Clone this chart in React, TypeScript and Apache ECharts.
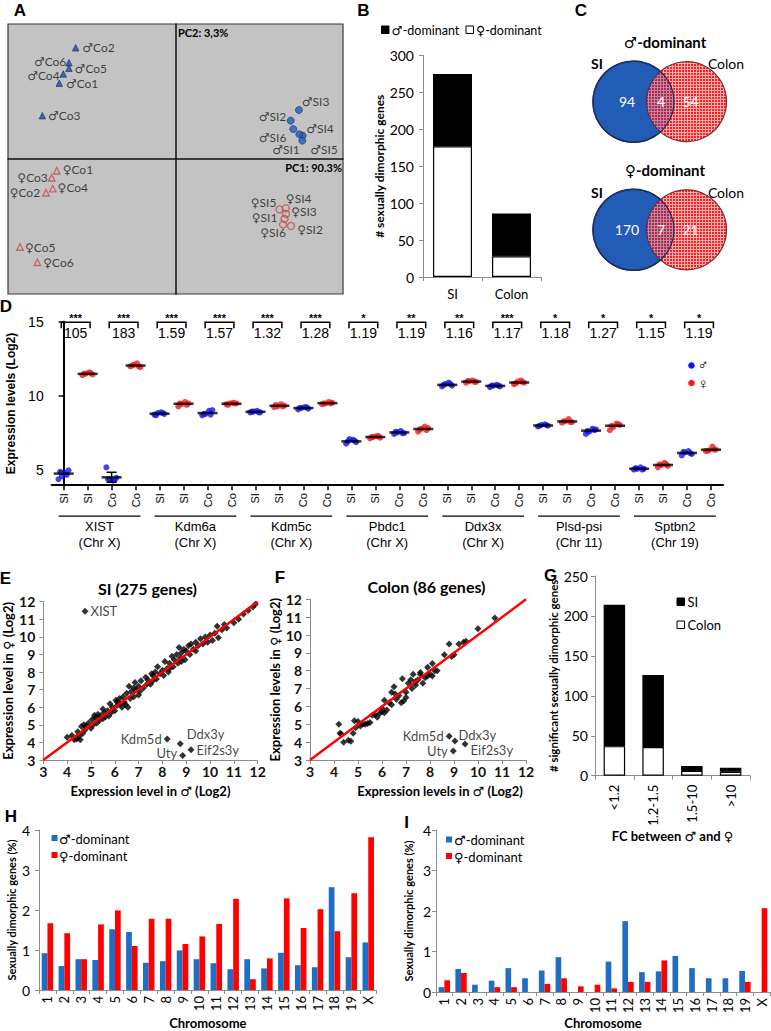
import { useEffect, useRef } from 'react';
import * as echarts from 'echarts';

const LATO = 'Lato, "DejaVu Sans", sans-serif';
const ARIAL = '"Liberation Sans", Arial, "DejaVu Sans", sans-serif';
const M = '\u2642';
const W = '\u2640';

// A: PCA scores (PC1 90.3%, PC2 3.3%)
const pcaMaleCoNames = ['Co1', 'Co2', 'Co3', 'Co4', 'Co5', 'Co6'];
const pcaMaleCoPC1 = [-0.694, -0.596, -0.795, -0.67, -0.636, -0.636];
const pcaMaleCoPC2 = [0.561, 0.824, 0.321, 0.63, 0.672, 0.713];
const pcaMaleSiNames = ['SI1', 'SI2', 'SI3', 'SI4', 'SI5', 'SI6'];
const pcaMaleSiPC1 = [0.759, 0.688, 0.737, 0.739, 0.757, 0.703];
const pcaMaleSiPC2 = [0.173, 0.284, 0.363, 0.183, 0.136, 0.222];
const pcaFemaleCoNames = ['Co1', 'Co2', 'Co3', 'Co4', 'Co5', 'Co6'];
const pcaFemaleCoPC1 = [-0.709, -0.773, -0.739, -0.733, -0.928, -0.825];
const pcaFemaleCoPC2 = [-0.087, -0.25, -0.139, -0.22, -0.652, -0.765];
const pcaFemaleSiNames = ['SI1', 'SI2', 'SI3', 'SI4', 'SI5', 'SI6'];
const pcaFemaleSiPC1 = [0.651, 0.69, 0.66, 0.658, 0.621, 0.642];
const pcaFemaleSiPC2 = [-0.444, -0.496, -0.407, -0.365, -0.373, -0.485];

// label placement (style only)
const pcaLabelPlace: Record<string, [string, number, number]> = {
  [M + 'Co1']: ['right', 1, 0], [M + 'Co2']: ['right', 1, 0], [M + 'Co3']: ['right', 0, 0],
  [M + 'Co4']: ['left', 2, 1.5], [M + 'Co5']: ['right', 0, 0], [M + 'Co6']: ['left', 3, -1.5],
  [M + 'SI1']: ['left', 3, 14], [M + 'SI2']: ['left', 1.5, -4], [M + 'SI3']: ['right', -3, -8],
  [M + 'SI4']: ['right', 1, -6], [M + 'SI5']: ['right', 2, 9], [M + 'SI6']: ['left', -1, 8],
  [W + 'Co1']: ['right', 0, -1], [W + 'Co2']: ['left', 0, 0], [W + 'Co3']: ['left', 2, 0],
  [W + 'Co4']: ['right', -1, -1], [W + 'Co5']: ['right', -1, 0], [W + 'Co6']: ['right', 0, 0],
  [W + 'SI1']: ['left', -1, -1], [W + 'SI2']: ['right', 0, 4], [W + 'SI3']: ['right', -1, -2],
  [W + 'SI4']: ['right', -6, -10], [W + 'SI5']: ['left', 3, -7], [W + 'SI6']: ['left', 9, 8],
};

// B: number of sexually dimorphic genes
const tissues = ['SI', 'Colon'];
const maleDominantCounts = [98, 58];
const femaleDominantCounts = [177, 28];

// C: Venn counts [SI only, shared, Colon only]
const vennMale = [94, 4, 54];
const vennFemale = [170, 7, 21];

// D: expression levels
const genes = ['XIST', 'Kdm6a', 'Kdm5c', 'Pbdc1', 'Ddx3x', 'Plsd-psi', 'Sptbn2'];
const geneChromosomes = ['(Chr X)', '(Chr X)', '(Chr X)', '(Chr X)', '(Chr X)', '(Chr 11)', '(Chr 19)'];
const sampleLabels = ['SI', 'SI', 'Co', 'Co'];
const expressionDots: number[][] = [
  [4.4, 4.6, 4.8, 5.0, 4.9, 4.7], [11.4, 11.5, 11.6, 11.45, 11.5, 11.55],
  [5.2, 4.4, 4.3, 4.5, 4.4, 4.35], [12.0, 12.1, 12.2, 11.95, 12.05, 12.0],
  [8.75, 8.85, 8.9, 8.8, 8.7, 8.85], [9.3, 9.45, 9.6, 9.5, 9.5, 9.4],
  [8.7, 8.8, 9.0, 9.05, 8.8, 8.75], [9.45, 9.5, 9.55, 9.5, 9.4, 9.5],
  [8.9, 8.95, 9.0, 8.9, 8.95, 8.9], [9.25, 9.3, 9.45, 9.35, 9.4, 9.3],
  [9.1, 9.2, 9.25, 9.15, 9.2, 9.25], [9.45, 9.5, 9.6, 9.55, 9.5, 9.5],
  [6.8, 7.1, 7.05, 6.9, 6.95, 7.0], [7.15, 7.25, 7.3, 7.2, 7.25, 7.3],
  [7.45, 7.55, 7.65, 7.5, 7.6, 7.5], [7.6, 7.8, 7.95, 7.85, 7.75, 7.7],
  [10.65, 10.8, 10.9, 10.7, 10.75, 10.8], [10.9, 11.0, 11.05, 10.95, 11.0, 10.95],
  [10.6, 10.7, 10.75, 10.65, 10.7, 10.7], [10.8, 10.95, 11.05, 10.9, 10.85, 10.95],
  [7.95, 8.05, 8.1, 8.0, 8.0, 8.05], [8.2, 8.3, 8.45, 8.25, 8.3, 8.25],
  [7.45, 7.6, 7.8, 7.75, 7.65, 7.7], [7.7, 7.9, 8.15, 8.05, 8.0, 8.1],
  [5.05, 5.1, 5.2, 5.1, 5.15, 5.05], [5.2, 5.35, 5.5, 5.3, 5.4, 5.4],
  [6.0, 6.2, 6.3, 6.1, 6.25, 6.15], [6.3, 6.35, 6.6, 6.4, 6.3, 6.4],
];
const expressionMeans = [
  4.78, 11.49, 4.53, 12.05, 8.81, 9.48, 8.85, 9.48, 8.94, 9.34, 9.19, 9.52, 6.95, 7.24,
  7.55, 7.78, 10.75, 10.97, 10.68, 10.91, 8.02, 8.29, 7.67, 8.0, 5.11, 5.36, 6.17, 6.39,
];
// standard error bar shown for XIST colon males
const errorBarCategory = 2;
const errorBarRange = [4.2, 4.87];
const foldChanges = ['105', '183', '1.59', '1.57', '1.32', '1.28', '1.19', '1.19', '1.16', '1.17', '1.18', '1.27', '1.15', '1.19'];
const significance = ['***', '***', '***', '***', '***', '***', '*', '**', '**', '***', '*', '*', '*', '*'];
const dotJitter = [-0.22, -0.08, 0.06, 0.2, -0.15, 0.13];

// E: SI (275 genes) male vs female
const siGenes: number[][] = [
  [4.0, 4.3], [4.2, 4.4], [4.3, 4.15], [4.4, 4.2], [4.45, 4.6], [4.5, 4.35], [4.6, 4.9], [4.65, 4.5],
  [4.7, 5.0], [4.75, 4.7], [4.8, 4.95], [4.9, 5.1], [5.0, 4.8], [5.05, 5.3], [5.1, 5.0], [5.2, 5.4],
  [5.25, 5.1], [5.3, 5.6], [5.35, 5.25], [5.4, 5.5], [5.5, 5.35], [5.55, 5.7], [5.6, 5.45], [5.7, 5.8],
  [5.75, 5.5], [5.8, 6.2], [5.85, 5.7], [5.9, 6.0], [6.0, 5.8], [6.05, 6.4], [6.1, 6.1], [6.2, 6.5],
  [6.25, 6.2], [6.3, 6.0], [6.35, 6.6], [6.4, 6.3], [6.5, 6.8], [6.55, 6.0], [6.6, 7.2], [6.65, 6.5],
  [6.7, 6.9], [6.8, 6.6], [6.85, 7.4], [6.9, 7.0], [7.0, 7.2], [7.05, 6.9], [7.1, 7.5], [7.2, 7.1],
  [7.3, 7.7], [7.35, 7.3], [7.4, 7.55], [7.5, 7.3], [7.55, 7.9], [7.6, 7.5], [7.7, 8.0], [7.75, 7.6],
  [7.8, 8.3], [7.9, 7.9], [8.0, 8.1], [8.05, 7.8], [8.1, 8.6], [8.2, 8.2], [8.25, 8.0], [8.3, 8.5],
  [8.4, 8.9], [8.45, 8.3], [8.5, 8.7], [8.6, 9.0], [8.65, 8.5], [8.7, 9.4], [8.75, 8.8], [8.8, 9.1],
  [8.9, 9.3], [8.95, 8.7], [9.0, 9.2], [9.1, 9.5], [9.15, 9.0], [9.2, 9.6], [9.3, 9.3], [9.4, 9.7],
  [9.5, 9.5], [9.6, 9.9], [9.7, 9.6], [9.8, 10.0], [9.9, 9.7], [10.0, 10.1], [10.1, 9.8], [10.2, 10.2],
  [10.3, 10.6], [10.35, 9.95], [10.5, 10.4], [10.6, 10.7], [10.7, 10.5], [11.0, 10.8], [11.2, 11.0],
  [11.4, 11.3], [11.6, 11.5], [11.8, 11.7], [11.9, 11.85], [5.5, 5.9], [6.8, 7.1], [7.6, 7.8],
  [8.3, 8.2], [9.4, 9.2], [6.1, 6.3], [7.0, 6.7], [8.8, 8.6], [4.55, 4.15], [5.15, 5.55], [6.45, 6.15],
];
const siOutlierNames = ['XIST', 'Kdm5d', 'Ddx3y', 'Uty', 'Eif2s3y'];
const siOutlierMale = [4.75, 8.2, 8.75, 8.85, 9.2];
const siOutlierFemale = [11.45, 4.2, 3.93, 3.25, 3.58];

// F: Colon (86 genes)
const colonGenes: number[][] = [
  [4.2, 5.0], [4.25, 4.5], [4.3, 4.45], [4.4, 4.0], [4.6, 4.1], [4.7, 4.05], [4.85, 5.2], [5.0, 5.15],
  [4.9, 4.8], [5.1, 4.9], [5.3, 5.0], [5.5, 5.1], [5.4, 5.05], [5.8, 5.4], [5.9, 5.6], [6.0, 5.7],
  [6.1, 6.35], [6.2, 5.8], [6.1, 5.65], [6.4, 6.1], [6.5, 7.1], [6.55, 6.7], [6.6, 6.4], [6.7, 6.6],
  [6.8, 6.2], [6.9, 6.3], [7.0, 6.8], [7.1, 7.3], [7.2, 7.5], [7.3, 7.8], [7.25, 7.0], [7.4, 7.4],
  [7.5, 7.5], [7.6, 7.9], [7.7, 7.3], [7.8, 7.6], [7.9, 8.2], [8.0, 7.8], [8.1, 8.4], [8.2, 8.0],
  [8.3, 8.0], [8.6, 8.9], [8.8, 9.5], [8.9, 8.8], [9.0, 8.9], [9.2, 9.5], [9.4, 9.6], [9.5, 9.65],
  [10.0, 10.35], [10.7, 10.95], [6.85, 7.55], [7.6, 7.8], [6.4, 6.8], [5.6, 5.5], [6.0, 5.9],
  [7.0, 6.5], [7.4, 7.2], [8.1, 7.7], [4.8, 4.5], [5.2, 5.0], [5.7, 5.55], [6.3, 6.2], [7.9, 7.7],
];
const colonOutlierNames = ['XIST', 'Kdm5d', 'Ddx3y', 'Uty', 'Eif2s3y'];
const colonOutlierMale = [4.55, 8.8, 9.04, 8.97, 9.46];
const colonOutlierFemale = [12.05, 4.33, 4.06, 3.5, 3.9];

const siOutlierPlace: Record<string, [string, number, number]> = {
  XIST: ['right', 0, 0], Kdm5d: ['left', 0, 0], Ddx3y: ['right', 1, -10], Uty: ['left', 0, -3], Eif2s3y: ['right', 0, 0],
};
const colonOutlierPlace: Record<string, [string, number, number]> = {
  XIST: ['bottom', 0, -1], Kdm5d: ['left', 0, 0], Ddx3y: ['right', -2, -6], Uty: ['left', 0, 0], Eif2s3y: ['right', 0, 6],
};

// G: fold change bins
const fcBins = ['<1.2', '1.2-1.5', '1.5-10', '>10'];
const fcSI = [177, 90, 6, 5];
const fcColon = [37, 36, 6, 5];

// H, I: % sexually dimorphic genes per chromosome
const chromosomes = ['1', '2', '3', '4', '5', '6', '7', '8', '9', '10', '11', '12', '13', '14', '15', '16', '17', '18', '19', 'X'];
const siMalePct = [0.92, 0.6, 0.77, 0.75, 1.52, 1.45, 0.68, 0.72, 0.99, 0.77, 0.67, 0.52, 0.77, 0.54, 0.93, 0.62, 0.57, 2.57, 0.82, 1.19];
const siFemalePct = [1.67, 1.42, 0.77, 1.64, 1.99, 1.1, 1.78, 1.78, 1.15, 1.34, 1.65, 2.28, 0.27, 0.79, 2.29, 1.55, 2.02, 1.47, 2.42, 3.82];
const colonMalePct = [0.12, 0.57, 0.18, 0.28, 0.59, 0.34, 0.53, 0.86, 0, 0, 0.75, 1.75, 0.49, 0.51, 0.89, 0.59, 0.34, 0.34, 0.52, 0];
const colonFemalePct = [0.29, 0.47, 0, 0.12, 0.12, 0, 0.2, 0.34, 0.14, 0.18, 0.09, 0.25, 0.25, 0.78, 0, 0, 0, 0, 0.25, 2.07];

const BLUE = '#1f6ec4';
const RED = '#ff0000';

function txt(x: number, y: number, text: string, font: string, align = 'left', fill = '#000', z = 20) {
  return {
    type: 'text', z, silent: true,
    style: { text, x, y, font, fill, align, textAlign: align, verticalAlign: 'middle', textVerticalAlign: 'middle' },
  };
}

function box(x: number, y: number, s: number, fill: string) {
  return { type: 'rect', z: 20, silent: true, shape: { x, y, width: s, height: s }, style: { fill, stroke: '#000', lineWidth: 1 } };
}

export default function App() {
  const chartRef = useRef<HTMLDivElement>(null);

  useEffect(() => {
    document.body.style.margin = '0';
    if (!chartRef.current) return;
    const chart = echarts.init(chartRef.current, null, { renderer: 'svg' });

    // red grid pattern for the Colon circles
    const cv = document.createElement('canvas');
    cv.width = 3;
    cv.height = 3;
    const cx = cv.getContext('2d')!;
    cx.fillStyle = '#ff1f1f';
    cx.fillRect(0, 0, 3, 3);
    cx.fillStyle = '#ffb0b0';
    cx.fillRect(0, 0, 3, 1);
    cx.fillRect(0, 0, 1, 3);
    const hatch: any = { image: cv.toDataURL(), repeat: 'repeat', imageWidth: 3, imageHeight: 3 };

    const pcaSeries = (names: string[], pc1: number[], pc2: number[], prefix: string, symbol: string, size: number, itemStyle: any) => ({
      type: 'scatter', xAxisIndex: 0, yAxisIndex: 0, symbol, symbolSize: size, itemStyle, z: 5,
      label: { show: true, formatter: '{b}', distance: 2, fontFamily: LATO, fontSize: 12, color: '#1a1a1a' },
      data: names.map((n, i) => {
        const name = prefix + n;
        const p = pcaLabelPlace[name];
        return { name, value: [pc1[i], pc2[i]], label: { position: p[0], offset: [p[1], p[2]] } };
      }),
    });

    const outlierSeries = (names: string[], xs: number[], ys: number[], place: any, xi: number, yi: number) => ({
      type: 'scatter', xAxisIndex: xi, yAxisIndex: yi, symbol: 'diamond', symbolSize: 7,
      itemStyle: { color: '#000' },
      label: { show: true, formatter: '{b}', distance: 2, fontFamily: LATO, fontSize: 13, color: '#111' },
      data: names.map((n, i) => ({ name: n, value: [xs[i], ys[i]], label: { position: place[n][0], offset: [place[n][1], place[n][2]] } })),
    });

    const maleDots: number[][] = [];
    const femaleDots: number[][] = [];
    expressionDots.forEach((vals, c) => {
      vals.forEach((v, k) => (c % 2 === 0 ? maleDots : femaleDots).push([c + dotJitter[k], v]));
    });

    const grayLine = { show: true, lineStyle: { color: '#8c8c8c', width: 1 } };
    const grayTick = { show: true, inside: false, length: 4, lineStyle: { color: '#8c8c8c' } };
    const noSplit = { show: false };
    const boldName = (size: number) => ({ fontFamily: LATO, fontWeight: 'bold', fontSize: size, color: '#000' });

    const scatterXAxis = (grid: number, name: string, pad: number) => ({
      gridIndex: grid, type: 'value', min: 3, max: 12, interval: 1,
      axisLine: grayLine, axisTick: grayTick, splitLine: noSplit,
      axisLabel: { fontFamily: LATO, fontWeight: 'bold', fontSize: 14, color: '#111', margin: 4 },
      name, nameLocation: 'middle', nameGap: 24, nameTextStyle: { ...boldName(13), padding: [0, 0, 0, pad] },
    });
    const scatterYAxis = (grid: number, name: string, gap: number) => ({
      gridIndex: grid, type: 'value', min: 3, max: 12, interval: 1,
      axisLine: grayLine, axisTick: grayTick, splitLine: noSplit,
      axisLabel: { fontFamily: LATO, fontWeight: 'bold', fontSize: 14, color: '#111', margin: 8 },
      name, nameLocation: 'middle', nameGap: gap, nameTextStyle: boldName(13),
    });
    const chromXAxis = (grid: number, gap: number) => ({
      gridIndex: grid, type: 'category', data: chromosomes,
      axisLine: grayLine, axisTick: grayTick,
      axisLabel: { rotate: 90, interval: 0, fontFamily: LATO, fontSize: 13, color: '#000', margin: 6 },
      name: 'Chromosome', nameLocation: 'middle', nameGap: gap, nameTextStyle: boldName(13),
    });
    const pctYAxis = (grid: number, margin: number) => ({
      gridIndex: grid, type: 'value', min: 0, max: 4, interval: 1,
      axisLine: grayLine, axisTick: grayTick, splitLine: noSplit,
      axisLabel: { fontFamily: LATO, fontSize: 14, color: '#000', margin },
      name: 'Sexually dimorphic genes (%)', nameLocation: 'middle', nameGap: 22, nameTextStyle: boldName(11),
    });
    const pctBars = (male: number[], female: number[], xi: number, yi: number) => [
      { type: 'bar', xAxisIndex: xi, yAxisIndex: yi, data: male, itemStyle: { color: BLUE }, barGap: '0%', barCategoryGap: '32%' },
      { type: 'bar', xAxisIndex: xi, yAxisIndex: yi, data: female, itemStyle: { color: RED }, barGap: '0%', barCategoryGap: '32%' },
    ];

    const venn = (cy: number, counts: number[], title: string, titleY: number, labelY: number) => [
      { type: 'circle', z: 10, silent: true, shape: { cx: 633.5, cy, r: 40.5 }, style: { fill: '#2a6fc4', stroke: '#1b2f5e', lineWidth: 1.5 } },
      { type: 'circle', z: 11, silent: true, shape: { cx: 686.5, cy, r: 40 }, style: { fill: hatch, stroke: '#7a2e2e', lineWidth: 1.2 } },
      { type: 'circle', z: 12, silent: true, shape: { cx: 633.5, cy, r: 40.5 }, style: { fill: 'rgba(20,50,150,0.3)', stroke: '#1b2f5e', lineWidth: 1.2 } },
      txt(665, titleY, title, `bold 15px ${LATO}`, 'center'),
      txt(597, labelY, 'SI', `bold 14px ${LATO}`, 'center'),
      txt(726, labelY, 'Colon', `14px ${LATO}`, 'center'),
      txt(627, cy, String(counts[0]), `14px ${LATO}`, 'center', '#fff'),
      txt(661, cy, String(counts[1]), `14px ${LATO}`, 'center', '#fff'),
      txt(690.5, cy, String(counts[2]), `14px ${LATO}`, 'center', '#fff'),
    ];

    const option: any = {
      animation: false,
      backgroundColor: '#fff',
      grid: [
        { left: 8, top: 24, width: 335, height: 270, show: true, backgroundColor: '#c3c3c3', borderColor: '#3a3a3a', borderWidth: 1.2 },
        { left: 423, top: 55.5, width: 118, height: 221.5 },
        { left: 51.7, top: 321.7, width: 671.3, height: 163.5 },
        { left: 43.3, top: 601.7, width: 214.4, height: 158.3 },
        { left: 310, top: 599.3, width: 216, height: 160.7 },
        { left: 595, top: 576, width: 155, height: 199.7 },
        { left: 39, top: 830, width: 337.7, height: 160 },
        { left: 436, top: 830, width: 334, height: 162 },
      ].map((g) => ({ ...g, containLabel: false, outerBoundsMode: 'none' })),
      xAxis: [
        {
          gridIndex: 0, type: 'value', min: -1, max: 1,
          axisLine: { onZero: true, lineStyle: { color: '#111', width: 1.5 } },
          axisTick: { show: false }, axisLabel: { show: false }, splitLine: noSplit,
        },
        {
          gridIndex: 1, type: 'category', data: tissues,
          axisLine: grayLine, axisTick: grayTick,
          axisLabel: { fontFamily: LATO, fontSize: 13, color: '#000', margin: 10 },
        },
        {
          gridIndex: 2, type: 'category', data: genes.flatMap(() => sampleLabels),
          axisLine: { show: true, lineStyle: { color: '#000', width: 2 } },
          axisTick: { show: true, alignWithLabel: true, length: 5, lineStyle: { color: '#000', width: 1.5 } },
          axisLabel: { rotate: 90, interval: 0, fontFamily: ARIAL, fontSize: 11, color: '#000', margin: 8 },
        },
        { gridIndex: 2, type: 'value', min: -0.5, max: 27.5, show: false },
        scatterXAxis(3, `Expression level in ${M} (Log2)`, 0),
        scatterXAxis(4, `Expression levels in ${M} (Log2)`, 44),
        {
          gridIndex: 5, type: 'category', data: fcBins,
          axisLine: grayLine, axisTick: grayTick,
          axisLabel: { rotate: 90, interval: 0, fontFamily: LATO, fontSize: 13, color: '#000', margin: 9 },
          name: `FC between ${M} and ${W}`, nameLocation: 'middle', nameGap: 50, nameTextStyle: boldName(13),
        },
        chromXAxis(6, 26),
        chromXAxis(7, 24),
      ],
      yAxis: [
        {
          gridIndex: 0, type: 'value', min: -1, max: 1,
          axisLine: { onZero: true, lineStyle: { color: '#111', width: 1.5 } },
          axisTick: { show: false }, axisLabel: { show: false }, splitLine: noSplit,
        },
        {
          gridIndex: 1, type: 'value', min: 0, max: 300, interval: 50,
          axisLine: grayLine, axisTick: grayTick, splitLine: noSplit,
          axisLabel: { fontFamily: LATO, fontSize: 14, color: '#000', margin: 9 },
          name: '# sexually dimorphic genes', nameLocation: 'middle', nameGap: 33, nameTextStyle: boldName(12),
        },
        {
          gridIndex: 2, type: 'value', min: 4, max: 15,
          axisLine: { show: true, lineStyle: { color: '#000', width: 2 } },
          axisTick: { show: true, length: 5, customValues: [5, 10, 15], lineStyle: { color: '#000', width: 1.5 } },
          axisLabel: { customValues: [5, 10, 15], fontFamily: ARIAL, fontSize: 14, color: '#000', margin: 8 },
          splitLine: noSplit,
          name: 'Expression levels (Log2)', nameLocation: 'middle', nameGap: 32,
          nameTextStyle: { fontFamily: ARIAL, fontWeight: 'bold', fontSize: 12, color: '#000' },
        },
        scatterYAxis(3, `Expression level in ${W} (Log2)`, 29),
        scatterYAxis(4, `Expression levels in ${W} (Log2)`, 25),
        {
          gridIndex: 5, type: 'value', min: 0, max: 250, interval: 50,
          axisLine: grayLine, axisTick: grayTick, splitLine: noSplit,
          axisLabel: { fontFamily: LATO, fontSize: 14, color: '#000', margin: 7 },
          name: '# significant sexually dimorphic genes', nameLocation: 'middle', nameGap: 36, nameTextStyle: boldName(11.5),
        },
        pctYAxis(6, 9),
        pctYAxis(7, 5),
      ],
      series: [
        // A
        pcaSeries(pcaMaleCoNames, pcaMaleCoPC1, pcaMaleCoPC2, M, 'triangle', 6.5, { color: '#1f4e9c', borderColor: '#12306a', borderWidth: 0.8 }),
        pcaSeries(pcaMaleSiNames, pcaMaleSiPC1, pcaMaleSiPC2, M, 'circle', 7, { color: '#1f5fb8', borderColor: '#12306a', borderWidth: 0.8 }),
        pcaSeries(pcaFemaleCoNames, pcaFemaleCoPC1, pcaFemaleCoPC2, W, 'triangle', 6.5, { color: 'rgba(0,0,0,0)', borderColor: '#c0504d', borderWidth: 1.3 }),
        pcaSeries(pcaFemaleSiNames, pcaFemaleSiPC1, pcaFemaleSiPC2, W, 'circle', 7, { color: 'rgba(0,0,0,0)', borderColor: '#c0504d', borderWidth: 1.3 }),
        // B
        { type: 'bar', xAxisIndex: 1, yAxisIndex: 1, stack: 'b', barWidth: 39, data: femaleDominantCounts, itemStyle: { color: '#fff', borderColor: '#000', borderWidth: 1.2 } },
        { type: 'bar', xAxisIndex: 1, yAxisIndex: 1, stack: 'b', barWidth: 39, data: maleDominantCounts, itemStyle: { color: '#000', borderColor: '#000', borderWidth: 1.2 } },
        // D
        { type: 'scatter', xAxisIndex: 3, yAxisIndex: 2, symbolSize: 6, data: maleDots, itemStyle: { color: '#1414f5' } },
        { type: 'scatter', xAxisIndex: 3, yAxisIndex: 2, symbolSize: 6, data: femaleDots, itemStyle: { color: '#f21b1b' } },
        {
          type: 'scatter', xAxisIndex: 3, yAxisIndex: 2, symbol: 'rect', symbolSize: [20, 2.5], z: 4,
          data: expressionMeans.map((v, c) => [c, v]), itemStyle: { color: '#000' },
        },
        {
          type: 'custom', xAxisIndex: 3, yAxisIndex: 2, silent: true, z: 4,
          data: [[errorBarCategory, errorBarRange[0], errorBarRange[1]]],
          renderItem: (_params: any, api: any) => {
            const lo = api.coord([api.value(0), api.value(1)]);
            const hi = api.coord([api.value(0), api.value(2)]);
            const w = 5;
            return {
              type: 'group',
              children: [
                { type: 'line', shape: { x1: lo[0], y1: lo[1], x2: hi[0], y2: hi[1] }, style: { stroke: '#000', lineWidth: 1.5 } },
                { type: 'line', shape: { x1: lo[0] - w, y1: lo[1], x2: lo[0] + w, y2: lo[1] }, style: { stroke: '#000', lineWidth: 1.5 } },
                { type: 'line', shape: { x1: hi[0] - w, y1: hi[1], x2: hi[0] + w, y2: hi[1] }, style: { stroke: '#000', lineWidth: 1.5 } },
              ],
            };
          },
        },
        {
          type: 'custom', xAxisIndex: 3, yAxisIndex: 2, clip: false, silent: true,
          data: foldChanges.map((_, i) => [i * 2]),
          renderItem: (params: any, api: any) => {
            const i = api.value(0);
            const a = api.coord([i - 0.1, 15]);
            const b = api.coord([i + 1.1, 15]);
            const y = a[1] + 0.5;
            const mid = (a[0] + b[0]) / 2;
            return {
              type: 'group',
              children: [
                { type: 'polyline', shape: { points: [[a[0], y + 6], [a[0], y], [b[0], y], [b[0], y + 6]] }, style: { stroke: '#000', lineWidth: 1.5, fill: null } },
                { type: 'text', style: { text: significance[params.dataIndex], x: mid, y: y + 1.5, font: `bold 11px ${ARIAL}`, fill: '#000', align: 'center', textAlign: 'center', verticalAlign: 'bottom', textVerticalAlign: 'bottom' } },
                { type: 'text', style: { text: foldChanges[params.dataIndex], x: mid, y: y + 4, font: `14px ${ARIAL}`, fill: '#000', align: 'center', textAlign: 'center', verticalAlign: 'top', textVerticalAlign: 'top' } },
              ],
            };
          },
        },
        {
          type: 'custom', xAxisIndex: 3, yAxisIndex: 2, clip: false, silent: true,
          data: genes.map((_, g) => [g * 4]),
          renderItem: (params: any, api: any) => {
            const s = api.value(0);
            const a = api.coord([s - 0.21, 4]);
            const b = api.coord([s + 3.2, 4]);
            const y = a[1] + 31;
            const mid = (a[0] + b[0]) / 2;
            return {
              type: 'group',
              children: [
                { type: 'line', shape: { x1: a[0], y1: y, x2: b[0], y2: y }, style: { stroke: '#000', lineWidth: 1.2 } },
                { type: 'text', style: { text: genes[params.dataIndex], x: mid, y: y + 10, font: `13px ${ARIAL}`, fill: '#000', align: 'center', textAlign: 'center', verticalAlign: 'middle', textVerticalAlign: 'middle' } },
                { type: 'text', style: { text: geneChromosomes[params.dataIndex], x: mid, y: y + 26.5, font: `13px ${ARIAL}`, fill: '#000', align: 'center', textAlign: 'center', verticalAlign: 'middle', textVerticalAlign: 'middle' } },
              ],
            };
          },
        },
        // E
        { type: 'scatter', xAxisIndex: 4, yAxisIndex: 3, symbol: 'diamond', symbolSize: 7, data: siGenes, itemStyle: { color: '#000' } },
        outlierSeries(siOutlierNames, siOutlierMale, siOutlierFemale, siOutlierPlace, 4, 3),
        { type: 'line', xAxisIndex: 4, yAxisIndex: 3, data: [[3, 3], [12, 12]], symbol: 'none', z: 6, lineStyle: { color: '#ff0000', width: 2.5 } },
        // F
        { type: 'scatter', xAxisIndex: 5, yAxisIndex: 4, symbol: 'diamond', symbolSize: 7, data: colonGenes, itemStyle: { color: '#000' } },
        outlierSeries(colonOutlierNames, colonOutlierMale, colonOutlierFemale, colonOutlierPlace, 5, 4),
        { type: 'line', xAxisIndex: 5, yAxisIndex: 4, data: [[3, 3], [12, 12]], symbol: 'none', z: 6, lineStyle: { color: '#ff0000', width: 2.5 } },
        // G
        { type: 'bar', xAxisIndex: 6, yAxisIndex: 5, stack: 'g', barWidth: 21.5, data: fcColon, itemStyle: { color: '#fff', borderColor: '#000', borderWidth: 1.2 } },
        { type: 'bar', xAxisIndex: 6, yAxisIndex: 5, stack: 'g', barWidth: 21.5, data: fcSI, itemStyle: { color: '#000', borderColor: '#000', borderWidth: 1.2 } },
        // H, I
        ...pctBars(siMalePct, siFemalePct, 7, 6),
        ...pctBars(colonMalePct, colonFemalePct, 8, 7),
      ],
      graphic: [
        // panel letters
        txt(20, 10, 'A', `bold 17px ${ARIAL}`, 'center'),
        txt(363.5, 10, 'B', `bold 17px ${ARIAL}`, 'center'),
        txt(581, 10, 'C', `bold 17px ${ARIAL}`, 'center'),
        txt(6, 306, 'D', `bold 17px ${ARIAL}`, 'center'),
        txt(5.5, 578.5, 'E', `bold 17px ${ARIAL}`, 'center'),
        txt(280, 577, 'F', `bold 17px ${ARIAL}`, 'center'),
        txt(550.5, 575, 'G', `bold 17px ${ARIAL}`, 'center'),
        txt(11, 816.5, 'H', `bold 17px ${ARIAL}`, 'center'),
        txt(406.5, 822, 'I', `bold 17px ${ARIAL}`, 'center'),
        // A axis captions
        txt(178, 32.5, 'PC2: 3,3%', `bold 11px ${LATO}`),
        txt(342, 167, 'PC1: 90.3%', `bold 11px ${LATO}`, 'right'),
        // B legend
        box(381.5, 26, 7.5, '#000'),
        txt(391.5, 30, `${M}-dominant`, `12.5px ${LATO}`),
        box(466, 26, 7.5, '#fff'),
        txt(476, 30, `${W}-dominant`, `12.5px ${LATO}`),
        // C
        ...venn(101.7, vennMale, `${M}-dominant`, 42, 63.5),
        ...venn(229.8, vennFemale, `${W}-dominant`, 170, 192),
        // D legend
        { type: 'circle', z: 20, silent: true, shape: { cx: 691.5, cy: 365.5, r: 3.3 }, style: { fill: '#1414f5' } },
        txt(697.5, 364, M, `15px ${ARIAL}`),
        { type: 'circle', z: 20, silent: true, shape: { cx: 691.5, cy: 383, r: 3.3 }, style: { fill: '#f21b1b' } },
        txt(697.5, 383, W, `15px ${ARIAL}`),
        // E, F titles
        txt(147.5, 588.5, 'SI (275 genes)', `bold 16px ${LATO}`, 'center'),
        txt(426.5, 586, 'Colon (86 genes)', `bold 16px ${LATO}`, 'center'),
        // G legend
        box(677, 598, 7.5, '#000'),
        txt(687.5, 602, 'SI', `13px ${LATO}`),
        box(677, 621, 7.5, '#fff'),
        txt(687.5, 625, 'Colon', `13px ${LATO}`),
        // H legend
        { type: 'rect', z: 20, silent: true, shape: { x: 51.5, y: 835, width: 6, height: 6 }, style: { fill: BLUE } },
        txt(59, 838.5, `${M}-dominant`, `13px ${LATO}`),
        { type: 'rect', z: 20, silent: true, shape: { x: 51.5, y: 852, width: 6, height: 6 }, style: { fill: RED } },
        txt(59, 855.5, `${W}-dominant`, `13px ${LATO}`),
        // I legend
        { type: 'rect', z: 20, silent: true, shape: { x: 446, y: 836.5, width: 6, height: 6 }, style: { fill: BLUE } },
        txt(454, 840, `${M}-dominant`, `13px ${LATO}`),
        { type: 'rect', z: 20, silent: true, shape: { x: 446, y: 853, width: 6, height: 6 }, style: { fill: RED } },
        txt(454, 856.5, `${W}-dominant`, `13px ${LATO}`),
      ],
    };

    chart.setOption(option);
    return () => {
      chart.dispose();
    };
  }, []);

  return <div ref={chartRef} style={{ width: 771, height: 1031 }} />;
}
